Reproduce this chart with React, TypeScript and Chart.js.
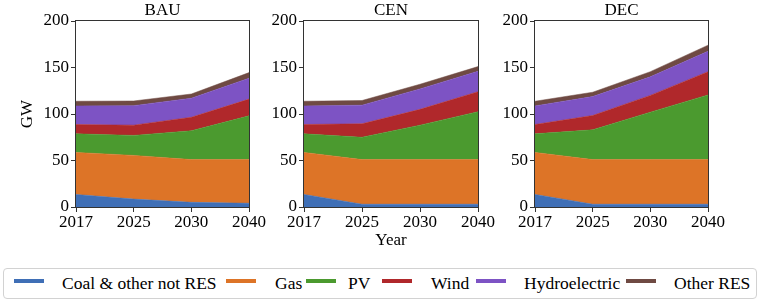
import React, { useEffect, useRef } from 'react';
import { Chart, registerables } from 'chart.js';

Chart.register(...registerables);

// ---------- data ----------
const YEARS = ['2017', '2025', '2030', '2040'];
const SERIES = ['Coal & other not RES', 'Gas', 'PV', 'Wind', 'Hydroelectric', 'Other RES'];
const COLORS = ['#3f6fb6', '#dd7427', '#4b9a2f', '#b0282b', '#7d53c4', '#6f4a43'];

const BAU_COAL = [13.5, 8.5, 5, 4];
const BAU_GAS = [45.2, 47, 46, 47];
const BAU_PV = [20, 21.5, 31, 47];
const BAU_WIND = [10, 11, 14.5, 18];
const BAU_HYDRO = [20, 21, 20.5, 22.5];
const BAU_OTHER = [5, 5, 4.5, 6];

const CEN_COAL = [13.5, 3, 3, 3];
const CEN_GAS = [45.2, 48, 48, 48];
const CEN_PV = [20, 24, 37, 51.5];
const CEN_WIND = [10, 14.5, 17, 21.5];
const CEN_HYDRO = [20, 20, 22, 22];
const CEN_OTHER = [5, 5, 5, 5];

const DEC_COAL = [13.5, 3, 3, 3];
const DEC_GAS = [45.2, 48, 48, 48];
const DEC_PV = [20, 32, 51, 69.5];
const DEC_WIND = [10, 15.4, 18, 25];
const DEC_HYDRO = [20, 20.4, 20, 22];
const DEC_OTHER = [5, 4.6, 5.5, 6.5];

const Y_TICKS_MAX = 200;
const Y_TICKS_STEP = 50;

// ---------- style ----------
const FONT_FAMILY = "'Liberation Serif', 'Times New Roman', serif";
const FONT_SIZE = 17;
const W = 762;
const CANVAS_H = 252;

const framePlugin = {
  id: 'frame',
  afterDatasetsDraw(chart: any) {
    const { ctx, chartArea } = chart;
    const l = Math.round(chartArea.left) - 0.5;
    const t = Math.round(chartArea.top) - 0.5;
    const r = Math.round(chartArea.right) + 0.5;
    const b = Math.round(chartArea.bottom) + 0.5;
    ctx.save();
    ctx.strokeStyle = '#333';
    ctx.lineWidth = 1;
    ctx.strokeRect(l, t, r - l, b - t);
    ctx.restore();
  },
};

type PanelProps = {
  title: string;
  series: number[][];
  plotLeft: number;
  plotRight: number;
  yAxisWidth: number;
  showYTitle: boolean;
  showXTitle: boolean;
};

function Panel({ title, series, plotLeft, plotRight, yAxisWidth, showYTitle, showXTitle }: PanelProps) {
  const ref = useRef<HTMLCanvasElement | null>(null);
  useEffect(() => {
    if (!ref.current) return;
    const font = { family: FONT_FAMILY, size: FONT_SIZE };
    const chart = new Chart(ref.current, {
      type: 'line',
      data: {
        labels: YEARS,
        datasets: SERIES.map((name, i) => ({
          label: name,
          data: series[i],
          backgroundColor: COLORS[i],
          borderColor: COLORS[i],
          borderWidth: 0.5,
          fill: i === 0 ? 'origin' : '-1',
          pointRadius: 0,
          pointHoverRadius: 0,
          tension: 0,
        })),
      },
      options: {
        animation: false,
        responsive: true,
        maintainAspectRatio: false,
        events: [],
        layout: {
          padding: { left: plotLeft - yAxisWidth, right: W - plotRight, top: 0, bottom: 0 },
        },
        plugins: {
          legend: { display: false },
          tooltip: { enabled: false },
          title: {
            display: true,
            text: title,
            fullSize: false,
            color: '#000',
            font: { ...font, weight: 'normal' },
            padding: { top: 0, bottom: 0.6 },
          },
        },
        scales: {
          x: {
            type: 'category',
            offset: false,
            grid: { drawOnChartArea: false, drawTicks: true, tickLength: 5, color: '#333' },
            border: { display: false },
            ticks: { font, color: '#000', padding: 0, maxRotation: 0, autoSkip: false },
            title: {
              display: showXTitle,
              text: 'Year',
              color: '#000',
              font,
              padding: { top: 0, bottom: 1 },
            },
            afterFit: (s: any) => {
              s.height = CANVAS_H - 207;
            },
          },
          y: {
            stacked: true,
            min: 0,
            max: Y_TICKS_MAX,
            grid: { drawOnChartArea: false, drawTicks: true, tickLength: 5, color: '#333' },
            border: { display: false },
            ticks: { font, color: '#000', padding: 2, stepSize: Y_TICKS_STEP },
            title: {
              display: showYTitle,
              text: 'GW',
              color: '#000',
              font,
              padding: 0,
            },
            afterFit: (s: any) => {
              s.width = yAxisWidth;
            },
          },
        },
      },
      plugins: [framePlugin],
    } as any);
    return () => chart.destroy();
  }, [title, series, plotLeft, plotRight, yAxisWidth, showYTitle, showXTitle]);

  return (
    <div style={{ position: 'absolute', left: 0, top: 0, width: W, height: CANVAS_H }}>
      <canvas ref={ref} />
    </div>
  );
}

const LEGEND_LINE_X = [10, 222, 302, 378, 472, 622];
const LEGEND_TEXT_X = [58, 271, 344, 427, 520, 670];

function Legend() {
  return (
    <div
      style={{
        position: 'absolute',
        left: 3,
        top: 268,
        width: 754,
        height: 31,
        boxSizing: 'border-box',
        border: '1px solid #d2d2d2',
        borderRadius: 4,
        background: '#fff',
        fontFamily: FONT_FAMILY,
        fontSize: 17.5,
        color: '#000',
      }}
    >
      {SERIES.map((name, i) => (
        <React.Fragment key={name}>
          <div
            style={{
              position: 'absolute',
              left: LEGEND_LINE_X[i],
              top: 10,
              width: 30,
              height: 4,
              background: COLORS[i],
            }}
          />
          <span
            style={{
              position: 'absolute',
              left: LEGEND_TEXT_X[i],
              top: 4,
              lineHeight: '20px',
              whiteSpace: 'nowrap',
            }}
          >
            {name}
          </span>
        </React.Fragment>
      ))}
    </div>
  );
}

const BAU = [BAU_COAL, BAU_GAS, BAU_PV, BAU_WIND, BAU_HYDRO, BAU_OTHER];
const CEN = [CEN_COAL, CEN_GAS, CEN_PV, CEN_WIND, CEN_HYDRO, CEN_OTHER];
const DEC = [DEC_COAL, DEC_GAS, DEC_PV, DEC_WIND, DEC_HYDRO, DEC_OTHER];

export default function App() {
  return (
    <div
      style={{
        position: 'fixed',
        left: 0,
        top: 0,
        width: W,
        height: 302,
        background: '#fff',
        overflow: 'hidden',
      }}
    >
      <Panel title="BAU" series={BAU} plotLeft={76} plotRight={249} yAxisWidth={59} showYTitle={true} showXTitle={false} />
      <Panel title="CEN" series={CEN} plotLeft={304} plotRight={478} yAxisWidth={40} showYTitle={false} showXTitle={true} />
      <Panel title="DEC" series={DEC} plotLeft={535} plotRight={708} yAxisWidth={40} showYTitle={false} showXTitle={false} />
      <Legend />
    </div>
  );
}
